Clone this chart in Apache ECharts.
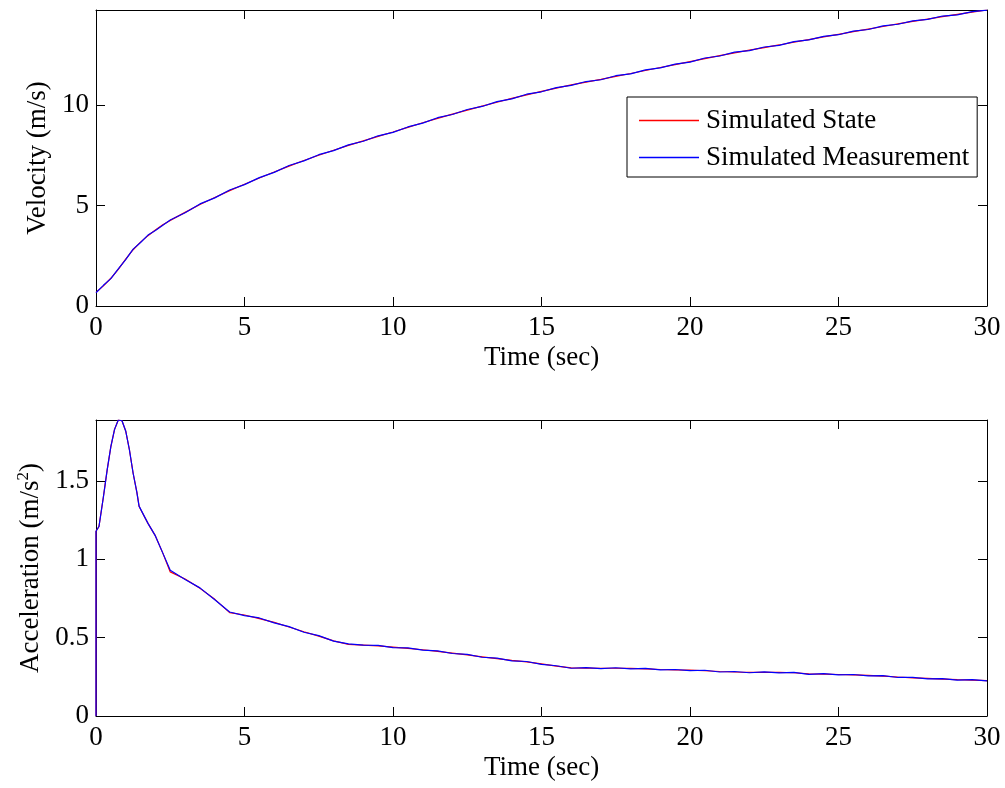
<!DOCTYPE html>
<html>
<head>
<meta charset="utf-8">
<script src="https://cdn.jsdelivr.net/npm/echarts@6/dist/echarts.min.js"></script>
<style>
html,body{margin:0;padding:0;background:#fff;}
#chart{width:1005px;height:788px;}
</style>
</head>
<body>
<div id="chart"></div>
<script>
// ---- Data ----
const timeV = [0,0.25,0.5,0.75,1,1.25,1.5,1.75,2,2.25,2.5,
  3,3.5,4,4.5,5,5.5,6,6.5,7,7.5,8,8.5,9,9.5,10,10.5,11,11.5,12,12.5,13,13.5,14,14.5,15,
  15.5,16,16.5,17,17.5,18,18.5,19,19.5,20,20.5,21,21.5,22,22.5,23,23.5,24,24.5,25,
  25.5,26,26.5,27,27.5,28,28.5,29,29.5,30];
const stateV = [0.68,1.00,1.38,1.82,2.33,2.80,3.18,3.50,3.78,4.04,4.26,
  4.66,5.05,5.40,5.74,6.06,6.37,6.67,6.96,7.24,7.50,7.75,7.99,8.22,8.44,8.66,
  8.89,9.12,9.34,9.55,9.75,9.95,10.14,10.33,10.51,10.68,10.84,11.00,11.14,11.28,11.43,
  11.57,11.72,11.87,12.01,12.16,12.31,12.46,12.60,12.73,12.86,12.99,13.13,13.26,13.39,13.52,
  13.65,13.78,13.91,14.04,14.16,14.28,14.40,14.51,14.62,14.73];
const measV = [0.66,1.03,1.36,1.85,2.31,2.83,3.16,3.53,3.76,4.02,4.28,
  4.64,5.08,5.38,5.77,6.04,6.39,6.65,6.99,7.22,7.53,7.73,8.02,8.20,8.47,8.64,
  8.91,9.10,9.37,9.53,9.78,9.93,10.17,10.31,10.54,10.66,10.87,10.98,11.17,11.26,11.46,
  11.55,11.75,11.85,12.04,12.14,12.34,12.44,12.63,12.71,12.89,12.97,13.16,13.24,13.42,13.50,
  13.68,13.76,13.94,14.02,14.19,14.26,14.43,14.49,14.65,14.72];

const timeA = [0,0,0.1,0.25,0.375,0.5,0.625,0.75,0.875,1,1.125,1.25,1.375,1.45,1.5,1.75,2,2.25,2.5,
  3,3.5,4,4.5,5,5.5,6,6.5,7,7.5,8,8.5,9,9.5,10,10.5,11,11.5,12,12.5,13,13.5,14,14.5,15,
  15.5,16,16.5,17,17.5,18,18.5,19,19.5,20,20.5,21,21.5,22,22.5,23,23.5,24,24.5,25,
  25.5,26,26.5,27,27.5,28,28.5,29,29.5,30];
const stateA = [0,1.18,1.21,1.40,1.57,1.72,1.83,1.89,1.885,1.82,1.70,1.55,1.43,1.34,1.32,1.23,1.15,1.04,0.92,
  0.875,0.815,0.745,0.66,0.645,0.622,0.598,0.568,0.538,0.51,0.48,0.457,0.453,0.448,
  0.44,0.432,0.423,0.413,0.402,0.39,0.378,0.366,0.355,0.345,0.333,0.318,0.307,0.306,0.305,
  0.305,0.304,0.301,0.297,0.294,0.293,0.289,0.284,0.281,0.279,0.279,0.278,0.276,0.269,0.267,
  0.265,0.262,0.259,0.255,0.249,0.244,0.240,0.236,0.232,0.229,0.226];
const measA = [0,1.18,1.21,1.40,1.57,1.72,1.83,1.89,1.885,1.82,1.70,1.55,1.43,1.34,1.33,1.23,1.15,1.04,0.93,
  0.872,0.818,0.742,0.664,0.641,0.626,0.595,0.571,0.535,0.513,0.478,0.461,0.452,0.451,
  0.437,0.435,0.421,0.416,0.399,0.393,0.375,0.369,0.352,0.348,0.330,0.321,0.305,0.309,0.302,
  0.308,0.301,0.304,0.295,0.297,0.290,0.292,0.281,0.284,0.276,0.282,0.275,0.279,0.266,0.270,
  0.262,0.265,0.256,0.258,0.246,0.247,0.237,0.239,0.229,0.232,0.224];

const seriesNames = ['Simulated State', 'Simulated Measurement'];
const xLabel = 'Time (sec)';
const yLabelTop = 'Velocity (m/s)';
const yLabelBottom = 'Acceleration (m/s{sup|2})';
const xRange = [0, 30, 5];
const yRangeTop = [0, 14.73, 5];
const yRangeBottom = [0, 1.89, 0.5];

// ---- Chart ----
const FONT = 'Liberation Serif';
const FS = 27;
const pair = (t, v) => t.map((x, i) => [x, v[i]]);

function xAxes(gridIndex) {
  const common = {
    type: 'value', gridIndex, min: xRange[0], max: xRange[1], interval: xRange[2],
    axisLine: {show: true, onZero: false, lineStyle: {color: '#000', width: 1}},
    axisTick: {show: true, inside: true, length: 9, lineStyle: {color: '#000'}},
    splitLine: {show: false}
  };
  return [
    Object.assign({}, common, {
      position: 'bottom',
      axisLabel: {show: true, color: '#000', fontFamily: FONT, fontSize: FS, margin: 8},
      name: xLabel, nameLocation: 'middle', nameGap: 38,
      nameTextStyle: {color: '#000', fontFamily: FONT, fontSize: FS}
    }),
    Object.assign({}, common, {position: 'top', axisLabel: {show: false}})
  ];
}
function yAxes(gridIndex, range, name, gap) {
  const common = {
    type: 'value', gridIndex, min: range[0], max: range[1], interval: range[2],
    axisLine: {show: true, onZero: false, lineStyle: {color: '#000', width: 1}},
    axisTick: {show: true, inside: true, length: 9, lineStyle: {color: '#000'}},
    splitLine: {show: false}
  };
  return [
    Object.assign({}, common, {
      position: 'left',
      axisLabel: {show: true, color: '#000', fontFamily: FONT, fontSize: FS, margin: 7, showMaxLabel: false},
      name, nameLocation: 'middle', nameGap: gap,
      nameTextStyle: {color: '#000', fontFamily: FONT, fontSize: FS,
        rich: {sup: {fontFamily: FONT, fontSize: 17, color: '#000', verticalAlign: 'top', padding: [0, 0, 14, 0]}}}
    }),
    Object.assign({}, common, {position: 'right', axisLabel: {show: false}})
  ];
}

const chart = echarts.init(document.getElementById('chart'), null, {renderer: 'canvas'});
const lineSeries = (name, color, xi, yi, data, z) => ({
  name, type: 'line', xAxisIndex: xi, yAxisIndex: yi, data,
  showSymbol: false, symbol: 'none', animation: false, z,
  lineStyle: {color, width: 1.2}, itemStyle: {color}
});

chart.setOption({
  backgroundColor: '#fff',
  animation: false,
  grid: [
    {left: 96, right: 18, top: 10, height: 296},
    {left: 96, right: 18, top: 420, height: 296}
  ],
  xAxis: [...xAxes(0), ...xAxes(1)],
  yAxis: [...yAxes(0, yRangeTop, yLabelTop, 39), ...yAxes(1, yRangeBottom, yLabelBottom, 48)],
  legend: {
    orient: 'vertical', left: 627, top: 97,
    data: seriesNames.map(n => ({name: n, icon: 'rect'})),
    itemWidth: 60, itemHeight: 1.5, itemGap: 10,
    padding: [10, 8, 6, 12],
    borderColor: '#000', borderWidth: 1, backgroundColor: '#fff',
    textStyle: {color: '#000', fontFamily: FONT, fontSize: FS, padding: [0, 0, 0, 2]},
    selectedMode: false
  },
  series: [
    lineSeries(seriesNames[0], '#ff0000', 0, 0, pair(timeV, stateV), 2),
    lineSeries(seriesNames[1], '#0000ff', 0, 0, pair(timeV, measV), 3),
    lineSeries(seriesNames[0], '#ff0000', 2, 2, pair(timeA, stateA), 2),
    lineSeries(seriesNames[1], '#0000ff', 2, 2, pair(timeA, measA), 3)
  ]
});
</script>
</body>
</html>
